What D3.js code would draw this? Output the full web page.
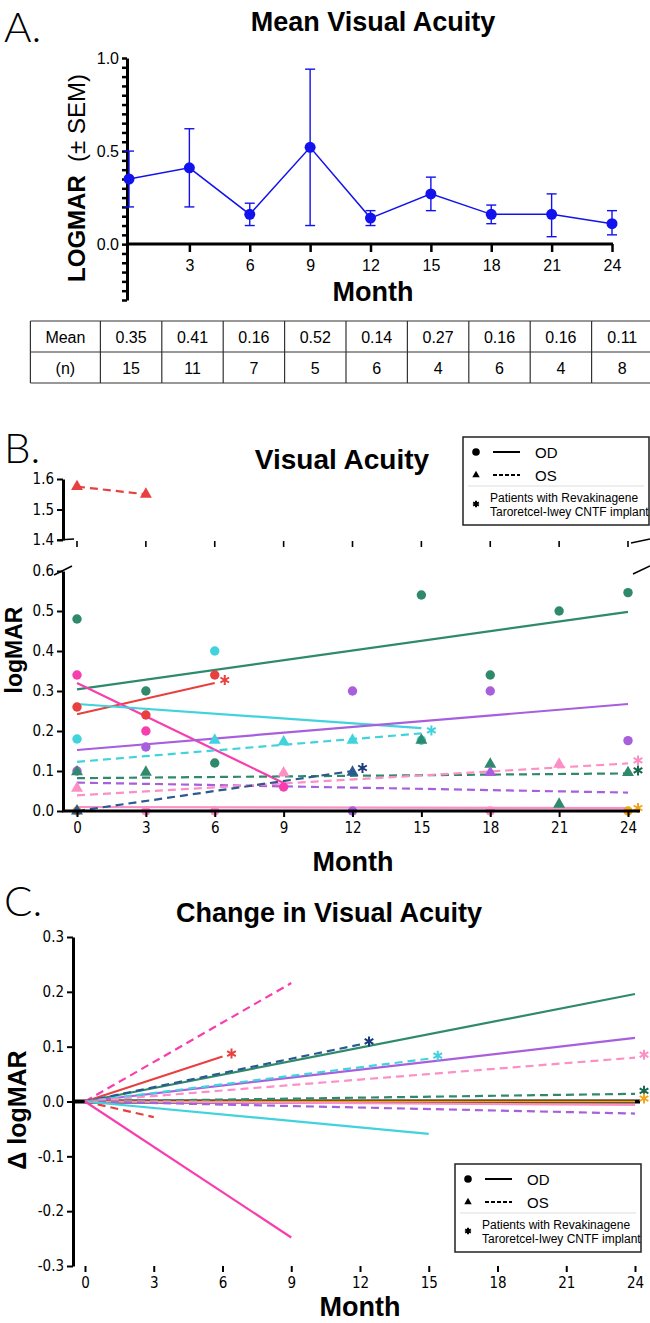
<!DOCTYPE html>
<html lang='en'>
<head>
<meta charset='utf-8'>
<title>Visual Acuity</title>
<script src='https://cdn.jsdelivr.net/npm/d3@7'></script>
<style>
  body { margin: 0; background: #fff; }
</style>
</head>
<body>
<script>
// ---------- panel A : mean visual acuity
const monthsA  = [0, 3, 6, 9, 12, 15, 18, 21, 24];
const meanA    = [0.35, 0.41, 0.16, 0.52, 0.14, 0.27, 0.16, 0.16, 0.11];
const semLowA  = [0.20, 0.20, 0.10, 0.10, 0.10, 0.18, 0.11, 0.04, 0.05];
const semHighA = [0.50, 0.62, 0.22, 0.94, 0.18, 0.36, 0.21, 0.27, 0.18];
const nA       = [15, 11, 7, 5, 6, 4, 6, 4, 8];
const tickMonths = [0, 3, 6, 9, 12, 15, 18, 21, 24];

// ---------- panel B : individual eyes (points)
const ptPatient = ['green','green','green','green','green','green','green',
                   'red','red','red','magenta','magenta','magenta',
                   'cyan','cyan','cyan','purple','purple','purple','purple','purple','purple',
                   'pink','pink','pink','orange','orange',
                   'green','green','green','green','green','green',
                   'cyan','cyan','cyan','pink','pink','pink','purple','navy','navy',
                   'red','red'];
const ptEye = ['OD','OD','OD','OD','OD','OD','OD',
               'OD','OD','OD','OD','OD','OD',
               'OD','OD','OD','OD','OD','OD','OD','OD','OD',
               'OD','OD','OD','OD','OD',
               'OS','OS','OS','OS','OS','OS',
               'OS','OS','OS','OS','OS','OS','OS','OS','OS',
               'OS','OS'];
const ptMonth = [0,3,6,15,18,21,24,
                 0,3,6,0,3,9,
                 0,6,15,0,3,12,18,24,12,
                 3,6,18,0,24,
                 0,3,15,18,21,24,
                 6,9,12,0,9,21,18,12,0,
                 0,3];
const ptValue = [0.48,0.30,0.12,0.54,0.34,0.50,0.546,
                 0.26,0.24,0.34,0.34,0.20,0.06,
                 0.18,0.40,0.177,0.10,0.16,0.30,0.30,0.176,0.0,
                 0.0,0.0,0.0,0.0,0.0,
                 0.098,0.097,0.177,0.117,0.017,0.096,
                 0.177,0.173,0.177,0.057,0.095,0.117,0.096,0.097,0.0,
                 1.575,1.55];

// ---------- panel B : trend lines
const fitPatient  = ['green','red','magenta','cyan','purple','pink','orange',
                     'cyan','green','purple','pink','navy','red'];
const fitEye      = ['OD','OD','OD','OD','OD','OD','OD','OS','OS','OS','OS','OS','OS'];
const fitEndMonth = [24, 6, 9, 15, 24, 24, 24, 15, 24, 24, 24, 12, 3];
const fitStart    = [0.304, 0.242, 0.32, 0.2675, 0.1525, 0.01, 0.0, 0.123, 0.082, 0.071, 0.039, 0.0, 1.575];
const fitEnd      = [0.498, 0.32, 0.07, 0.207, 0.2675, 0.007, 0.0, 0.194, 0.094, 0.046, 0.119, 0.1, 1.55];
const fitStar     = [false, true, false, false, false, false, true, true, true, false, true, true, false];

// ---------- panel C : change from baseline
const chgPatient  = ['magenta','red','green','navy','purple','cyan','pink','green','orange',
                     'pink','purple','red','cyan','magenta'];
const chgEye      = ['OS','OD','OD','OS','OD','OS','OS','OS','OD','OD','OS','OS','OD','OD'];
const chgEndMonth = [9, 6, 24, 12, 24, 15, 24, 24, 24, 24, 24, 3, 15, 9];
const chgEnd      = [0.216, 0.082, 0.196, 0.104, 0.116, 0.078, 0.080, 0.014, 0.0,
                     -0.006, -0.022, -0.0285, -0.059, -0.248];
const chgStar     = [false, true, false, true, false, true, true, true, true,
                     false, false, false, false, false];

// ---------- styles
const colors = { green: '#2f8a6b', red: '#e8403f', magenta: '#f83eaf', cyan: '#41d3dd',
                 purple: '#a85fdd', pink: '#fc8fc6', navy: '#2a5a90', orange: '#f4a31c' };
const starColors = { green: '#17684c', navy: '#18397a' };
const blueA = '#1212ee';
const narrow = "'Liberation Sans Narrow','Arial Narrow','Liberation Sans',Arial,sans-serif";
const tickFont = "'DejaVu Sans Condensed','DejaVu Sans',sans-serif";

const svg = d3.select('body').append('svg').attr('width', 650).attr('height', 1323)
  .style('font-family', "'Liberation Sans',Arial,sans-serif");

function letter(txt, y) {
  svg.append('text').attr('x', 4).attr('y', y).attr('font-family', "Lato,'Noto Sans',sans-serif")
    .attr('font-weight', 300).attr('font-size', 42).text(txt);
}
function bold(txt, x, y, size) {
  return svg.append('text').attr('x', x).attr('y', y).attr('text-anchor', 'middle')
    .attr('font-family', narrow).attr('font-weight', 'bold').attr('font-size', size).text(txt);
}
function styleAxis(g, font, size, w) {
  g.attr('font-family', font).attr('font-size', size);
  g.selectAll('.tick line').attr('stroke', '#000').attr('stroke-width', w);
  g.selectAll('.tick text').attr('fill', '#000');
  g.select('.domain').attr('stroke', '#000').attr('stroke-width', 3);
}
// asterisk mark for implant patients
function star(parent, x, y, c, size) {
  parent.append('path').attr('transform', `translate(${x},${y})`)
    .attr('d', d3.symbol(d3.symbolAsterisk, size)()).attr('fill', 'none')
    .attr('stroke', c).attr('stroke-width', 2);
}

// ================= A =================
letter('A.', 42);
bold('Mean Visual Acuity', 373, 31, 27);

const xA = d3.scaleLinear().domain([0, 24]).range([129, 612]);
const yA = d3.scaleLinear().domain([-0.3, 1]).range([300, 58]);

const yAxA = svg.append('g').attr('transform', 'translate(127,0)')
  .call(d3.axisLeft(yA).tickValues(d3.range(-6, 21).map(i => i * 0.05)).tickSize(5).tickSizeOuter(0)
    .tickFormat(d => (d >= -1e-9 && Math.abs(d * 2 - Math.round(d * 2)) < 1e-6) ? Math.abs(d).toFixed(1) : ''));
styleAxis(yAxA, narrow, 16, 2.5);

const xAxA = svg.append('g').attr('transform', 'translate(0,244)')
  .call(d3.axisBottom(xA).tickValues(monthsA.slice(1)).tickSize(8).tickSizeOuter(0).tickPadding(8));
styleAxis(xAxA, narrow, 16, 2.5);
xAxA.select('.domain').remove();
svg.append('line').attr('x1', 126).attr('x2', 613).attr('y1', 244).attr('y2', 244)
  .attr('stroke', '#000').attr('stroke-width', 3);

const ylabA = svg.append('text').attr('transform', 'translate(85,178) rotate(-90)')
  .attr('text-anchor', 'middle').attr('font-family', "'Liberation Sans',Arial,sans-serif").attr('font-size', 24);
ylabA.append('tspan').attr('font-weight', 'bold').text('LOGMAR');
ylabA.append('tspan').text('\u00a0 (\u00b1 SEM)');
bold('Month', 373, 301, 27);

const meanPts = monthsA.map((m, i) => ({ m, v: meanA[i], lo: semLowA[i], hi: semHighA[i] }));
const eb = svg.append('g').attr('stroke', blueA).attr('stroke-width', 1.4);
eb.selectAll('.v').data(meanPts).join('line')
  .attr('x1', d => xA(d.m)).attr('x2', d => xA(d.m)).attr('y1', d => yA(d.lo)).attr('y2', d => yA(d.hi));
eb.selectAll('.c1').data(meanPts).join('line')
  .attr('x1', d => xA(d.m) - 5).attr('x2', d => xA(d.m) + 5).attr('y1', d => yA(d.lo)).attr('y2', d => yA(d.lo));
eb.selectAll('.c2').data(meanPts).join('line')
  .attr('x1', d => xA(d.m) - 5).attr('x2', d => xA(d.m) + 5).attr('y1', d => yA(d.hi)).attr('y2', d => yA(d.hi));
svg.append('path').datum(meanPts).attr('fill', 'none').attr('stroke', blueA).attr('stroke-width', 1.5)
  .attr('d', d3.line().x(d => xA(d.m)).y(d => yA(d.v)));
svg.append('g').selectAll('circle').data(meanPts).join('circle')
  .attr('cx', d => xA(d.m)).attr('cy', d => yA(d.v)).attr('r', 5.5).attr('fill', blueA);

// table
const colX = d3.scaleBand().domain(monthsA).range([100.4, 653]);
const rowY = d3.scaleBand().domain(['Mean', '(n)']).range([321, 383]);
const tbl = svg.append('g').attr('font-family', narrow).attr('font-size', 16);
rowY.domain().concat(['end']).forEach((r, i) => {
  const y = 321 + i * rowY.bandwidth();
  tbl.append('line').attr('x1', 30.4).attr('x2', 653).attr('y1', y).attr('y2', y).attr('stroke', '#333').attr('stroke-width', 1.2);
});
[30.4].concat(monthsA.map(m => colX(m))).forEach(x => {
  tbl.append('line').attr('x1', x).attr('x2', x).attr('y1', 321).attr('y2', 383).attr('stroke', '#333').attr('stroke-width', 1.2);
});
rowY.domain().forEach((r, ri) => {
  const yc = rowY(r) + rowY.bandwidth() / 2 + 6;
  tbl.append('text').attr('x', 65.4).attr('y', yc).attr('text-anchor', 'middle').text(r);
  monthsA.forEach((m, i) => {
    tbl.append('text').attr('x', colX(m) + colX.bandwidth() / 2).attr('y', yc).attr('text-anchor', 'middle')
      .text(ri === 0 ? meanA[i].toFixed(2) : nA[i]);
  });
});

// ================= legend helper =================
function legend(x0, y0) {
  const g = svg.append('g').attr('transform', `translate(${x0},${y0})`);
  g.append('rect').attr('width', 186).attr('height', 88).attr('fill', '#fff').attr('stroke', '#222').attr('stroke-width', 1.5);
  g.append('circle').attr('cx', 13).attr('cy', 15).attr('r', 3.8).attr('fill', '#000');
  g.append('line').attr('x1', 30).attr('x2', 57).attr('y1', 15).attr('y2', 15).attr('stroke', '#000').attr('stroke-width', 2);
  g.append('text').attr('x', 72).attr('y', 20.5).attr('font-family', narrow).attr('font-size', 15).text('OD');
  g.append('path').attr('transform', 'translate(13,38)').attr('d', d3.symbol(d3.symbolTriangle, 24)()).attr('fill', '#000');
  g.append('line').attr('x1', 30).attr('x2', 57).attr('y1', 38).attr('y2', 38).attr('stroke', '#000').attr('stroke-width', 2).attr('stroke-dasharray', '4,2');
  g.append('text').attr('x', 72).attr('y', 43.5).attr('font-family', narrow).attr('font-size', 15).text('OS');
  g.append('line').attr('x1', 5).attr('x2', 181).attr('y1', 49).attr('y2', 49).attr('stroke', '#ddd').attr('stroke-width', 1);
  star(g, 13, 67, '#000', 30);
  g.append('text').attr('x', 27).attr('y', 65).attr('font-family', narrow).attr('font-size', 12).text('Patients with Revakinagene');
  g.append('text').attr('x', 27).attr('y', 79).attr('font-family', narrow).attr('font-size', 12).text('Taroretcel-Iwey CNTF implant');
}

// ================= B =================
letter('B.', 463);
bold('Visual Acuity', 342, 469, 28);

const xB = d3.scaleLinear().domain([0, 24]).range([77, 628]);
const yB = d3.scaleLinear().domain([0, 0.6]).range([811, 571]);
const yBu = d3.scaleLinear().domain([1.4, 1.6]).range([540, 479]);
const yBoth = v => v >= 1 ? yBu(v) : yB(v);

// trend lines
fitPatient.forEach((p, i) => {
  const seg = [[0, fitStart[i]], [fitEndMonth[i], fitEnd[i]]];
  svg.append('path').datum(seg).attr('fill', 'none').attr('stroke', colors[p]).attr('stroke-width', 2.2)
    .attr('stroke-dasharray', fitEye[i] === 'OS' ? '8,5' : null)
    .attr('d', d3.line().x(d => xB(d[0])).y(d => yBoth(d[1])));
  if (fitStar[i]) star(svg, xB(fitEndMonth[i]) + 10, yBoth(fitEnd[i]) - 3, starColors[p] || colors[p], 70);
});
// points
const ptsB = ptPatient.map((p, i) => ({ p, eye: ptEye[i], m: ptMonth[i], v: ptValue[i] }));
svg.append('g').selectAll('path').data(ptsB).join('path')
  .attr('transform', d => `translate(${xB(d.m)},${yBoth(d.v)})`)
  .attr('d', d => d.eye === 'OD' ? d3.symbol(d3.symbolCircle, 70)() : d3.symbol(d3.symbolTriangle, 62)())
  .attr('fill', d => colors[d.p]);

const yAxB = svg.append('g').attr('transform', 'translate(63,0)')
  .call(d3.axisLeft(yB).tickValues(d3.range(0, 7).map(i => i / 10)).tickSize(6).tickSizeOuter(0).tickFormat(d => d.toFixed(1)));
styleAxis(yAxB, tickFont, 15, 2);
const yAxBu = svg.append('g').attr('transform', 'translate(63,0)')
  .call(d3.axisLeft(yBu).tickValues([1.4, 1.5, 1.6]).tickSize(6).tickSizeOuter(0).tickFormat(d => d.toFixed(1)));
styleAxis(yAxBu, tickFont, 15, 2);

const xAxB = svg.append('g').attr('transform', 'translate(0,811)')
  .call(d3.axisBottom(xB).tickValues(tickMonths).tickSize(6).tickSizeOuter(0).tickPadding(5));
styleAxis(xAxB, tickFont, 15, 2);
xAxB.select('.domain').remove();
svg.append('line').attr('x1', 62).attr('x2', 640).attr('y1', 811).attr('y2', 811).attr('stroke', '#000').attr('stroke-width', 3);
// broken axis ticks
svg.append('g').selectAll('line').data(tickMonths).join('line')
  .attr('x1', d => xB(d)).attr('x2', d => xB(d)).attr('y1', 541).attr('y2', 547)
  .attr('stroke', '#000').attr('stroke-width', 1.6);
svg.append('line').attr('x1', 57).attr('x2', 74).attr('y1', 540).attr('y2', 539).attr('stroke', '#000').attr('stroke-width', 1.5);
svg.append('line').attr('x1', 54).attr('x2', 72).attr('y1', 575).attr('y2', 566).attr('stroke', '#000').attr('stroke-width', 1.5);
svg.append('line').attr('x1', 631).attr('x2', 650).attr('y1', 543).attr('y2', 539).attr('stroke', '#000').attr('stroke-width', 1.5);
svg.append('line').attr('x1', 633).attr('x2', 650).attr('y1', 574).attr('y2', 566).attr('stroke', '#000').attr('stroke-width', 1.5);

svg.append('text').attr('transform', 'translate(22,650) rotate(-90)').attr('text-anchor', 'middle')
  .attr('font-family', "'Liberation Sans',Arial,sans-serif").attr('font-weight', 'bold').attr('font-size', 23).text('logMAR');
bold('Month', 353, 871, 27);
legend(463, 437);

// ================= C =================
letter('C.', 916);
bold('Change in Visual Acuity', 329, 922, 27);

const xC = d3.scaleLinear().domain([0, 24]).range([85, 635]);
const yC = d3.scaleLinear().domain([-0.3, 0.3]).range([1266, 937]);

svg.append('line').attr('x1', 72).attr('x2', 640).attr('y1', yC(0)).attr('y2', yC(0)).attr('stroke', '#000').attr('stroke-width', 4);
chgPatient.forEach((p, i) => {
  const seg = [[0, 0], [chgEndMonth[i], chgEnd[i]]];
  svg.append('path').datum(seg).attr('fill', 'none').attr('stroke', colors[p]).attr('stroke-width', 2.2)
    .attr('stroke-dasharray', chgEye[i] === 'OS' ? '8,5' : null)
    .attr('d', d3.line().x(d => xC(d[0])).y(d => yC(d[1])));
  if (chgStar[i]) star(svg, xC(chgEndMonth[i]) + 9, yC(chgEnd[i]) - 3, starColors[p] || colors[p], 70);
});

const yAxC = svg.append('g').attr('transform', 'translate(73,0)')
  .call(d3.axisLeft(yC).tickValues(d3.range(-3, 4).map(i => i / 10)).tickSize(6).tickSizeOuter(0).tickFormat(d => d.toFixed(1)));
styleAxis(yAxC, tickFont, 15, 2);
const xAxC = svg.append('g').attr('transform', 'translate(0,1266)')
  .call(d3.axisBottom(xC).tickValues(tickMonths).tickSize(6).tickSizeOuter(0).tickPadding(5));
styleAxis(xAxC, tickFont, 15, 2);
xAxC.select('.domain').remove();

svg.append('text').attr('transform', 'translate(26,1110) rotate(-90)').attr('text-anchor', 'middle')
  .attr('font-family', "'Liberation Sans',Arial,sans-serif").attr('font-weight', 'bold').attr('font-size', 25).text('\u0394 logMAR');
bold('Month', 360, 1316, 27);
legend(455, 1164);
</script>
</body>
</html>
